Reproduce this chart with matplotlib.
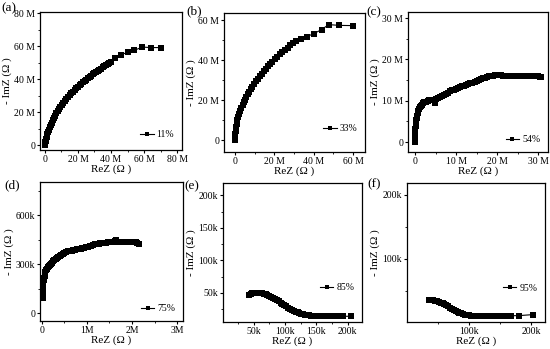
import matplotlib
matplotlib.use("Agg")
import matplotlib.pyplot as plt
from matplotlib.ticker import MultipleLocator, FuncFormatter

plt.rcParams['font.family'] = ['Liberation Serif', 'DejaVu Serif']
plt.rcParams['mathtext.fontset'] = 'stix'

# ---------------- data ----------------
# (a) 11%  values in M-ohm
a_x = [0, 0.1, 0.25, 0.45, 0.7, 1.0, 1.4, 1.8, 2.3, 2.8, 3.4, 4.0, 4.7, 5.4, 6.1, 6.9, 7.7, 8.5,
       9.3, 10.2, 11.1, 12.0, 13.0, 14.0, 15.0, 16.0, 17.0, 18.0, 19.0, 20.0, 21.0, 22.0, 23.0,
       24.0, 25.0, 26.0, 27.0, 28.0, 29.0, 30.0, 31.0, 32.0, 33.0, 34.0, 35.0, 36.0, 37.0, 38.0,
       39.0, 40.0, 42.5, 46.0, 50.5, 54.0, 59.0, 64.0, 70.0]
a_y = [0, 0.8, 1.7, 2.7, 3.8, 5.0, 6.5, 7.8, 9.3, 10.7, 12.2, 13.6, 15.1, 16.5, 17.9, 19.3, 20.6, 21.9,
       23.1, 24.4, 25.6, 26.8, 28.0, 29.2, 30.3, 31.4, 32.5, 33.5, 34.5, 35.5, 36.4, 37.3, 38.2,
       39.0, 39.8, 40.6, 41.4, 42.2, 42.9, 43.6, 44.3, 45.0, 45.7, 46.4, 47.1, 47.8, 48.5, 49.2,
       49.9, 50.6, 52.8, 54.8, 56.5, 57.5, 59.5, 59.2, 59.2]

# (b) 33%  values in M-ohm
b_x = [0, 0.1, 0.25, 0.5, 0.8, 1.2, 1.6, 2.1, 2.6, 3.2, 3.8, 4.4, 5.0, 5.7, 6.4, 7.2, 8.0, 8.8,
       9.7, 10.6, 11.5, 12.5, 13.5, 14.5, 15.6, 16.7, 17.8, 19.0, 20.2, 21.4, 22.7, 24.0, 25.3,
       26.7, 28.1, 29.6, 31.1, 33.5, 36.5, 40.0, 44.0, 47.5, 53.0, 60.0]
b_y = [0, 2.8, 4.5, 6.4, 8.0, 9.9, 11.4, 13.0, 14.5, 16.1, 17.5, 18.9, 20.1, 21.5, 22.8, 24.1, 25.5, 26.7,
       28.0, 29.3, 30.5, 31.8, 33.0, 34.3, 35.5, 36.8, 38.0, 39.2, 40.4, 41.6, 42.8, 44.0, 45.1,
       46.2, 47.3, 48.4, 49.5, 50.6, 51.7, 53.2, 55.2, 57.7, 57.3, 57.2]

# (c) 54%  values in M-ohm
c_x = [0, 0.02, 0.05, 0.08, 0.12, 0.17, 0.23, 0.3, 0.4, 0.5, 0.65, 0.8, 1.0, 1.2, 1.45, 1.7, 2.0,
       2.3, 2.7, 3.1, 3.5, 4.0, 4.5, 4.8, 5.0, 5.5, 6.0, 6.5, 7.0, 7.5, 8.0, 8.5, 9.0, 9.5, 10.0,
       10.5, 11.0, 11.5, 12.0, 12.5, 13.0, 13.5, 14.0, 14.5, 15.0, 15.5, 16.0, 16.5, 17.0, 17.5,
       18.0, 18.5, 19.0, 19.5, 20.0, 20.5, 21.0, 21.5, 22.0, 22.5, 23.0, 23.5, 24.0, 24.5, 25.0,
       25.5, 26.0, 26.5, 27.0, 27.5, 28.0, 28.5, 29.0, 29.5, 30.0, 30.4, 30.8]
c_y = [0, 0.8, 1.6, 2.4, 3.2, 4.0, 4.7, 5.3, 5.9, 6.4, 7.0, 7.5, 8.0, 8.4, 8.8, 9.1, 9.4,
       9.6, 9.8, 10.0, 10.1, 10.2, 10.3, 9.5, 10.5, 10.6, 10.9, 11.1, 11.4, 11.7, 12.0, 12.3, 12.5, 12.7, 12.9,
       13.2, 13.4, 13.6, 13.7, 13.9, 14.1, 14.3, 14.4, 14.6, 14.9, 15.1, 15.3, 15.5, 15.6, 15.8,
       15.9, 16.0, 16.1, 16.2, 16.2, 16.2, 16.2, 16.1, 16.1, 16.0, 16.0, 16.0, 16.0, 16.0, 16.0,
       16.0, 16.0, 16.0, 16.0, 16.0, 16.0, 16.0, 15.9, 15.9, 15.9, 15.8, 15.8]

# (d) 75%  ReZ in M-ohm, -ImZ in k-ohm
d_x = [0.02, 0.025, 0.03, 0.035, 0.04, 0.05, 0.06, 0.07, 0.08, 0.1, 0.12, 0.14, 0.16, 0.18, 0.2,
       0.22, 0.25, 0.28, 0.31, 0.34, 0.37, 0.4, 0.43, 0.46, 0.5, 0.54, 0.58, 0.62, 0.66, 0.7, 0.74,
       0.78, 0.82, 0.86, 0.9, 0.94, 0.98, 1.02, 1.06, 1.1, 1.14, 1.18, 1.22, 1.26, 1.3, 1.34, 1.38,
       1.42, 1.46, 1.5, 1.54, 1.58, 1.62, 1.65, 1.68, 1.72, 1.76, 1.8, 1.84, 1.88, 1.92, 1.96, 2.0,
       2.04, 2.08, 2.12, 2.15]
d_y = [90, 120, 150, 180, 200, 215, 228, 240, 250, 262, 272, 281, 289, 296, 302,
       308, 316, 323, 330, 337, 343, 349, 355, 361, 368, 374, 378, 381, 383, 386, 388,
       390, 392, 395, 398, 401, 404, 407, 410, 413, 417, 420, 423, 426, 428, 430, 431,
       432, 433, 434, 436, 438, 440, 445, 438, 437, 437, 437, 437, 437, 437, 436, 436,
       435, 433, 430, 426]

# (e) 85%  values in k-ohm
e_x = [42, 45, 48, 51, 54, 57, 60, 63, 66, 69, 72, 75, 78, 81, 84, 87, 90, 93, 96, 99, 102, 105,
       108, 111, 114, 117, 120, 123, 126, 129, 132, 135, 138, 141, 144, 147, 150, 153, 156, 159,
       162, 165, 168, 171, 174, 177, 180, 184, 193, 205]
e_y = [47, 48, 49, 49.5, 50, 50, 49.8, 49.3, 48.5, 47.5, 46.3, 45, 43.5, 42, 40.3, 38.5, 36.6, 34.7,
       32.8, 30.9, 29, 27.2, 25.5, 23.9, 22.4, 21, 19.7, 18.6, 17.6, 16.8, 16.1, 15.6, 15.2, 14.9,
       14.7, 14.5, 14.4, 14.3, 14.2, 14.1, 14.0, 14.0, 13.9, 13.9, 13.8, 13.8, 13.8, 13.8, 13.8, 13.8]

# (f) 95%  values in k-ohm
f_x = [37, 40, 43, 46, 49, 52, 55, 58, 61, 64, 67, 70, 73, 76, 79, 82, 85, 88, 91, 94, 97, 100,
       103, 106, 109, 112, 115, 118, 121, 124, 127, 130, 133, 136, 139, 142, 145, 148, 151, 154,
       157, 160, 167, 181, 202]
f_y = [35.5, 35.3, 35, 34.4, 33.6, 32.6, 31.4, 30, 28.5, 26.9, 25.2, 23.5, 21.8, 20.1, 18.5, 17,
       15.6, 14.4, 13.4, 12.6, 11.9, 11.4, 11, 10.7, 10.5, 10.4, 10.3, 10.3, 10.3, 10.3, 10.3, 10.3,
       10.3, 10.3, 10.3, 10.3, 10.3, 10.3, 10.3, 10.3, 10.4, 10.4, 10.8, 11.0, 12.5]

labels = ['11%', '33%', '54%', '75%', '85%', '95%']
panel_tags = ['(a)', '(b)', '(c)', '(d)', '(e)', '(f)']

# ---------------- figure ----------------
W, H = 550, 349
fig = plt.figure(figsize=(W / 100, H / 100), dpi=100)

def ax_px(l, t, r, b):
    return fig.add_axes([l / W, (H - b) / H, (r - l) / W, (b - t) / H])

fmt_M = FuncFormatter(lambda v, p: '0' if abs(v) < 1e-9 else '%d M' % round(v))
fmt_Mc = FuncFormatter(lambda v, p: '0' if abs(v) < 1e-9 else '%dM' % round(v))
fmt_k = FuncFormatter(lambda v, p: '0' if abs(v) < 1e-9 else '%dk' % round(v))

specs = [
    dict(box=(40, 12, 182, 150), x=a_x, y=a_y, xlim=(-3, 83), ylim=(-3, 80.8),
         xmaj=20, xmin=10, ymaj=20, ymin=10, xf=fmt_M, yf=fmt_M, leg=(1.0, 0.02),
         tag=(1, 8)),
    dict(box=(224, 13, 365, 152), x=b_x, y=b_y, xlim=(-5.6, 66), ylim=(-6, 63.5),
         xmaj=20, xmin=10, ymaj=20, ymin=10, xf=fmt_M, yf=fmt_M, leg=(1.0, 0.08),
         tag=(186, 11)),
    dict(box=(408, 12, 548, 152), x=c_x, y=c_y, xlim=(-1.7, 32.4), ylim=(-2.4, 31.5),
         xmaj=10, xmin=5, ymaj=10, ymin=5, xf=fmt_M, yf=fmt_M, leg=(1.0, 0.0),
         tag=(366, 12)),
    dict(box=(40, 182, 183, 321), x=d_x, y=d_y, xlim=(-0.04, 3.13), ylim=(-49, 803),
         xmaj=1, xmin=0.5, ymaj=300, ymin=150, xf=fmt_Mc, yf=fmt_k, leg=(1.0, 0.0),
         tag=(4, 185)),
    dict(box=(223, 183, 362, 322), x=e_x, y=e_y, xlim=(1, 223), ylim=(5, 219),
         xmaj=50, xmin=25, ymaj=50, ymin=25, xf=fmt_k, yf=fmt_k, leg=(1.0, 0.16),
         tag=(184, 186)),
    dict(box=(407, 183, 545, 322), x=f_x, y=f_y, xlim=(1, 222), ylim=(1, 218),
         xmaj=100, xmin=50, ymaj=100, ymin=50, xf=fmt_k, yf=fmt_k, leg=(1.0, 0.155),
         tag=(367, 184)),
]

for i, s in enumerate(specs):
    ax = ax_px(*s['box'])
    ax.plot(s['x'], s['y'], '-s', color='black', lw=0.8, ms=3.8,
            markeredgewidth=0, label=labels[i])
    ax.set_xlim(*s['xlim'])
    ax.set_ylim(*s['ylim'])
    ax.xaxis.set_major_locator(MultipleLocator(s['xmaj']))
    ax.xaxis.set_minor_locator(MultipleLocator(s['xmin']))
    ax.yaxis.set_major_locator(MultipleLocator(s['ymaj']))
    ax.yaxis.set_minor_locator(MultipleLocator(s['ymin']))
    ax.xaxis.set_major_formatter(s['xf'])
    ax.yaxis.set_major_formatter(s['yf'])
    ax.tick_params(axis='both', which='major', direction='out', length=2.5, width=0.8,
                   labelsize=7, pad=1)
    ax.tick_params(axis='both', which='minor', direction='out', length=1.5, width=0.6)
    for sp in ax.spines.values():
        sp.set_linewidth(0.9)
    ax.set_xlabel('ReZ (Ω )', fontsize=8, labelpad=0.5)
    ax.set_ylabel('- ImZ (Ω )', fontsize=8, labelpad=1.5)
    ax.legend(loc='lower right', bbox_to_anchor=s['leg'], frameon=False, fontsize=7,
              handlelength=1.4, handletextpad=0.3, borderpad=0.3, markerscale=0.9)
    tx, ty = s['tag']
    fig.text(tx / W, (H - ty) / H, panel_tags[i], fontsize=9.5, va='center', ha='left')

fig.savefig('out.png', dpi=100)
